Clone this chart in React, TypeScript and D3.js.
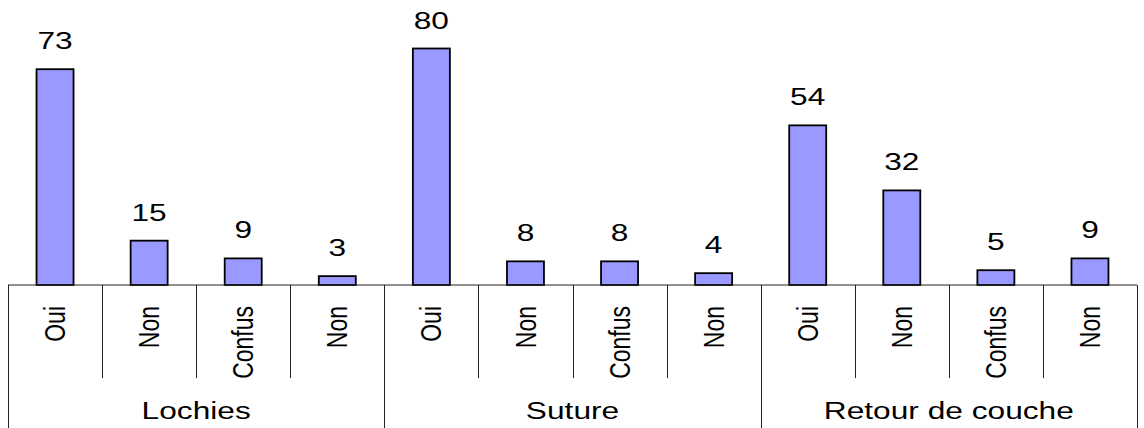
import React from "react";
import * as d3 from "d3";

const groups = ["Lochies", "Suture", "Retour de couche"];
const subLabels = ["Oui", "Non", "Confus", "Non"];
const values = [73, 15, 9, 3, 80, 8, 8, 4, 54, 32, 5, 9];

const W = 1144;
const H = 428;
const left = 8;
const right = 1137;
const base = 285;
const FONT = "'Liberation Sans', Arial, sans-serif";
const SX = 1.32;
const RSX = 1.3;

export default function App() {
  const cats = values.map((_, i) => i);
  const x = d3.scaleBand<number>().domain(cats).range([left, right]).padding(0);
  const y = d3.scaleLinear().domain([0, 80]).range([base, 48.5]);
  const barW = 37;
  const step = x.step();
  const nSub = subLabels.length;

  return (
    <svg
      width={W}
      height={H}
      style={{ position: "absolute", left: 0, top: 0, background: "#fff" }}
    >
      {values.map((v, i) => {
        const cx = (x(i) as number) + x.bandwidth() / 2;
        return (
          <g key={i}>
            <rect
              x={cx - barW / 2}
              y={y(v)}
              width={barW}
              height={base - y(v)}
              fill="#9999FF"
              stroke="#000"
              strokeWidth={1.8}
            />
            <text
              transform={`translate(${cx},${y(v) - 20}) scale(${SX},1)`}
              textAnchor="middle"
              fontFamily={FONT}
              fontSize={24}
              fill="#000"
            >
              {v}
            </text>
            <text
              transform={`translate(${cx},306) scale(${RSX},1) rotate(-90)`}
              textAnchor="end"
              dominantBaseline="central"
              fontFamily={FONT}
              fontSize={23}
              fill="#000"
            >
              {subLabels[i % nSub]}
            </text>
          </g>
        );
      })}
      <line x1={left} x2={right} y1={base} y2={base} stroke="#222" strokeWidth={1} />
      {d3.range(values.length + 1).map((k) => {
        const xx = Math.round(left + k * step) + 0.5;
        const isGroup = k % nSub === 0;
        return (
          <line
            key={k}
            x1={xx}
            x2={xx}
            y1={base}
            y2={isGroup ? H : 378}
            stroke="#222"
            strokeWidth={1}
          />
        );
      })}
      {groups.map((g, gi) => {
        const gx = left + (gi * nSub + nSub / 2) * step;
        return (
          <text
            key={g}
            transform={`translate(${gx},419) scale(${SX},1)`}
            textAnchor="middle"
            fontFamily={FONT}
            fontSize={24}
            fill="#000"
          >
            {g}
          </text>
        );
      })}
    </svg>
  );
}
